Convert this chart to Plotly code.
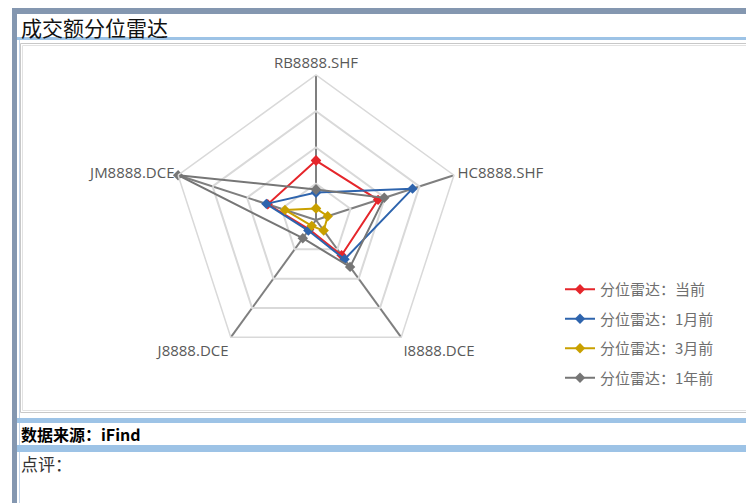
import plotly.graph_objects as go

W, H = 746, 495
OFF = 8  # page body margin

categories = ["RB8888.SHF", "HC8888.SHF", "I8888.DCE", "J8888.DCE", "JM8888.DCE"]
series_names = ["分位雷达：当前", "分位雷达：1月前", "分位雷达：3月前", "分位雷达：1年前"]
current = [0.41, 0.45, 0.30, 0.08, 0.35]
month1 = [0.19, 0.70, 0.335, 0.09, 0.36]
month3 = [0.08, 0.085, 0.09, 0.05, 0.225]
year1 = [0.21, 0.495, 0.40, 0.155, 1.0]
series_values = [current, month1, month3, year1]
colors = ["#e5262b", "#2e64ad", "#c9a000", "#767676"]

title_text = "成交额分位雷达"
source_text = "数据来源：iFind"
comment_text = "点评："


def px(x):
    return (x - OFF) / W


def py(y):
    return 1 - (y - OFF) / H


fig = go.Figure()
for i, (name, vals) in enumerate(zip(series_names, series_values)):
    fig.add_trace(go.Scatterpolar(
        r=vals + vals[:1],
        theta=categories + categories[:1],
        mode="lines+markers",
        name=name,
        legendgroup=f"g{i}",
        line=dict(color=colors[i], width=2),
        marker=dict(symbol="diamond", size=8, color=colors[i]),
    ))

cx, cy, R = 316, 220, 145

shapes = []


def rect(x0, y0, x1, y1, fill=None, line=None, lw=0):
    d = dict(type="rect", xref="paper", yref="paper",
             x0=px(x0), x1=px(x1), y0=py(y1), y1=py(y0), layer="below")
    d["fillcolor"] = fill if fill else "rgba(0,0,0,0)"
    d["line"] = dict(color=line if line else "rgba(0,0,0,0)", width=lw)
    return d


shapes.append(rect(12, 8, 760, 14, fill="#8497b0"))
shapes.append(rect(12, 8, 17, 510, fill="#8497b0"))
shapes.append(rect(17, 37, 760, 40, fill="#9dc3e6"))
shapes.append(rect(19, 40, 20, 510, fill="#c5d6ea"))
shapes.append(rect(20.5, 43.5, 770, 412.5, line="#c8c8c8", lw=1))
shapes.append(rect(22.5, 45.5, 770, 410.5, line="#e2e2e2", lw=1))
shapes.append(rect(17, 418, 760, 423, fill="#9dc3e6"))
shapes.append(rect(17, 445, 760, 452, fill="#9dc3e6"))

annotations = [
    dict(text=title_text, x=px(19), y=py(27), xref="paper", yref="paper",
         xanchor="left", yanchor="middle", showarrow=False,
         font=dict(family="Noto Sans CJK SC", size=21, color="#111111")),
    dict(text="<b>" + source_text + "</b>", x=px(19), y=py(434), xref="paper", yref="paper",
         xanchor="left", yanchor="middle", showarrow=False,
         font=dict(family="Noto Sans CJK SC", size=16, color="#000000")),
    dict(text=comment_text, x=px(19), y=py(463), xref="paper", yref="paper",
         xanchor="left", yanchor="middle", showarrow=False,
         font=dict(family="Noto Sans CJK SC", size=17, color="#333333")),
]

fig.update_layout(
    width=W, height=H,
    margin=dict(l=0, r=0, t=0, b=0),
    paper_bgcolor="white",
    plot_bgcolor="white",
    template="none",
    font=dict(family="Noto Sans CJK SC", color="#595959"),
    shapes=shapes,
    annotations=annotations,
    polar=dict(
        domain=dict(x=[px(cx - R), px(cx + R)], y=[py(cy + R), py(cy - R)]),
        bgcolor="rgba(0,0,0,0)",
        gridshape="linear",
        radialaxis=dict(range=[0, 1], dtick=0.25, showticklabels=False, ticks="",
                        showline=False, gridcolor="#d9d9d9", gridwidth=1.5),
        angularaxis=dict(direction="clockwise", rotation=90, showline=True,
                         linecolor="#d9d9d9", linewidth=1.5,
                         gridcolor="#7f7f7f", gridwidth=1.5, ticks="",
                         tickfont=dict(family="Open Sans", size=15, color="#595959")),
    ),
    legend=dict(x=px(560), y=py(273), xanchor="left", yanchor="top",
                tracegroupgap=7, bgcolor="rgba(0,0,0,0)",
                font=dict(family="Noto Sans CJK SC", size=15, color="#6f6f6f")),
)

fig.write_html("out.html")
